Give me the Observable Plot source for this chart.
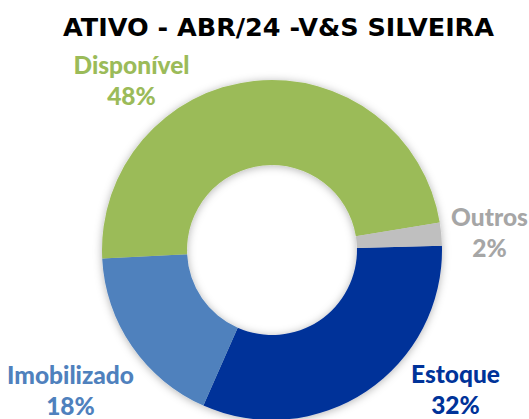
<!DOCTYPE html>
<html><head><meta charset="utf-8">
<script src="https://cdn.jsdelivr.net/npm/d3@7"></script>
<script src="https://cdn.jsdelivr.net/npm/@observablehq/plot@0.6"></script>
<style>body{margin:0;background:#fff}</style>
</head><body><div id="chart"></div>
<script>
// ---- data ----
const categories = ["Estoque", "Imobilizado", "Disponível", "Outros"];
const values = [32.0, 17.6, 48.2, 2.2];
const pctLabels = ["32%", "18%", "48%", "2%"];
const title = "ATIVO - ABR/24 -V&S SILVEIRA";
const sliceColors = ["#003399", "#4F81BD", "#9BBB59", "#BFBFBF"];
const textColors = ["#003399", "#4F81BD", "#9BBB59", "#A6A6A6"];

const data = categories.map((c, i) => ({category: c, value: values[i], pct: pctLabels[i], tc: textColors[i]}));

// ---- layout ----
const W = 529, H = 419, cx = 272, cy = 250, rOuter = 170, rInner = 85, startDeg = 88.6;
const labelLayout = {"Disponível": [131, 73], "Outros": [489, 225], "Estoque": [455, 382], "Imobilizado": [70, 383]};
const lineGap = 31;
const labelFont = "Lato, 'Open Sans', sans-serif";

function donut(index, scales, vals, dims, context) {
  const root = d3.create("svg:g");
  const f = root.append("defs").append("filter").attr("id", "sh")
    .attr("x", "-20%").attr("y", "-20%").attr("width", "140%").attr("height", "140%");
  f.append("feDropShadow").attr("dx", 0).attr("dy", 1).attr("stdDeviation", 4)
    .attr("flood-color", "#000").attr("flood-opacity", 0.3);
  const g = root.append("g").attr("transform", `translate(${cx},${cy})`).attr("filter", "url(#sh)");
  const a0 = startDeg * Math.PI / 180;
  const pie = d3.pie().value(d => d.value).sort(null).startAngle(a0).endAngle(a0 + 2 * Math.PI);
  const arc = d3.arc().innerRadius(rInner).outerRadius(rOuter);
  g.selectAll("path").data(pie(data)).join("path")
    .attr("d", arc).attr("fill", d => scales.color(d.data.category));
  return root.node();
}

const labelMarks = data.flatMap(d => {
  const [x, y] = labelLayout[d.category];
  const common = {fill: d.tc, fontFamily: labelFont, fontWeight: 900, fontSize: 24.5, lineAnchor: "bottom", textAnchor: "middle"};
  return [
    Plot.text([d], {x: () => x, y: () => y, text: "category", ...common}),
    Plot.text([d], {x: () => x, y: () => y + lineGap, text: "pct", ...common})
  ];
});

const chart = Plot.plot({
  width: W, height: H, margin: 0,
  x: {type: "identity", axis: null}, y: {type: "identity", axis: null},
  color: {domain: categories, range: sliceColors},
  style: {background: "#fff"},
  marks: [
    Plot.dot(data, {fill: "category", r: 0, frameAnchor: "middle"}),
    donut,
    ...labelMarks,
    Plot.text([title], {x: () => 278, y: () => 35, text: d => d, fill: "#000", fontFamily: "'DejaVu Sans', sans-serif", fontWeight: "bold", fontSize: 25.5, lineAnchor: "bottom", textAnchor: "middle"})
  ]
});
document.getElementById("chart").append(chart);
</script>
</body></html>
